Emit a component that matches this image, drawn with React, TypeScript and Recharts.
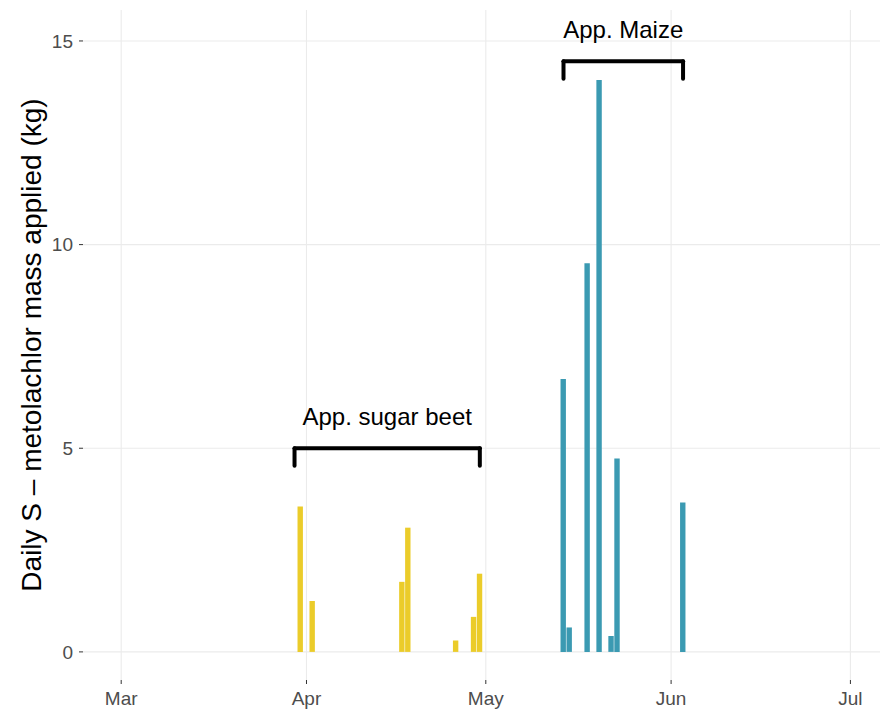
import { ComposedChart, Bar, Cell, XAxis, YAxis, CartesianGrid, ReferenceLine } from 'recharts'

// application days and daily mass applied (kg)
const sugarBeetDates = ['2019-03-31', '2019-04-02', '2019-04-17', '2019-04-18', '2019-04-26', '2019-04-29', '2019-04-30']
const sugarBeetKg = [3.57, 1.25, 1.72, 3.05, 0.28, 0.86, 1.92]
const maizeDates = ['2019-05-14', '2019-05-15', '2019-05-18', '2019-05-20', '2019-05-22', '2019-05-23', '2019-06-03']
const maizeKg = [6.7, 0.6, 9.54, 14.04, 0.39, 4.75, 3.67]

const monthTickDates = ['2019-03-01', '2019-04-01', '2019-05-01', '2019-06-01', '2019-07-01']
const monthTickLabels = ['Mar', 'Apr', 'May', 'Jun', 'Jul']
const yTicks = [0, 5, 10, 15]

// annotation brackets
const sugarBeetSpan = ['2019-03-30', '2019-04-30']
const sugarBeetBracketKg = 5
const maizeSpan = ['2019-05-14', '2019-06-03']
const maizeBracketKg = 14.5
const bracketDrop = 0.43

const SUGAR_BEET = '#EBCC2A'
const MAIZE = '#3B9AB2'

const origin = Date.UTC(2019, 2, 1)
const toDay = (s: string) => (new Date(s + 'T00:00:00Z').getTime() - origin) / 86400000

const data = [
  ...sugarBeetDates.map((d, i) => ({ day: toDay(d), kg: sugarBeetKg[i], crop: 'sugar beet' })),
  ...maizeDates.map((d, i) => ({ day: toDay(d), kg: maizeKg[i], crop: 'maize' })),
]
const xTicks = monthTickDates.map(toDay)

function Bracket({ span, y, label }: { span: string[]; y: number; label: string }) {
  const x1 = toDay(span[0])
  const x2 = toDay(span[1])
  const line = { stroke: '#000', strokeWidth: 4, strokeLinecap: 'round' as const }
  return [
    <ReferenceLine
      key="top"
      segment={[{ x: x1, y }, { x: x2, y }]}
      {...line}
      label={{ value: label, position: 'top', offset: 23, fill: '#000', fontSize: 24 }}
    />,
    <ReferenceLine key="l" segment={[{ x: x1, y }, { x: x1, y: y - bracketDrop }]} {...line} />,
    <ReferenceLine key="r" segment={[{ x: x2, y }, { x: x2, y: y - bracketDrop }]} {...line} />,
  ]
}

export default function App() {
  const tickStyle = { fontSize: 19, fill: '#4D4D4D' }
  return (
    <div style={{ position: 'absolute', left: 0, top: 0, fontFamily: '"Liberation Sans", Arial, sans-serif' }}>
      <ComposedChart width={881} height={715} data={data} margin={{ top: 10, right: 1, bottom: 0, left: 0 }}>
        <CartesianGrid stroke="#EBEBEB" strokeWidth={1.1} horizontalValues={yTicks} verticalValues={xTicks} />
        <XAxis
          type="number"
          dataKey="day"
          domain={[-6.39, 126.95]}
          allowDataOverflow
          ticks={xTicks}
          interval={0}
          tickFormatter={(v: number) => monthTickLabels[xTicks.indexOf(v)] ?? ''}
          axisLine={false}
          tickLine={{ stroke: '#333333' }}
          tickSize={4}
          tickMargin={8}
          height={35}
          tick={tickStyle}
        />
        <YAxis
          type="number"
          domain={[-0.69, 15.76]}
          allowDataOverflow
          ticks={yTicks}
          interval={0}
          axisLine={false}
          tickLine={{ stroke: '#333333' }}
          tickSize={4}
          tickMargin={6}
          width={83}
          tick={tickStyle}
          label={{
            content: ({ viewBox }: any) => {
              const cx = viewBox.x + 41
              const cy = viewBox.y + viewBox.height / 2
              return (
                <text x={cx} y={cy} textAnchor="middle" fontSize={28} fill="#000" transform={`rotate(-90, ${cx}, ${cy})`}>
                  Daily S – metolachlor mass applied (kg)
                </text>
              )
            },
          }}
        />
        <Bar dataKey="kg" barSize={5.4} isAnimationActive={false}>
          {data.map((d, i) => (
            <Cell key={i} fill={d.crop === 'maize' ? MAIZE : SUGAR_BEET} />
          ))}
        </Bar>
        {Bracket({ span: sugarBeetSpan, y: sugarBeetBracketKg, label: 'App. sugar beet' })}
        {Bracket({ span: maizeSpan, y: maizeBracketKg, label: 'App. Maize' })}
      </ComposedChart>
    </div>
  )
}
